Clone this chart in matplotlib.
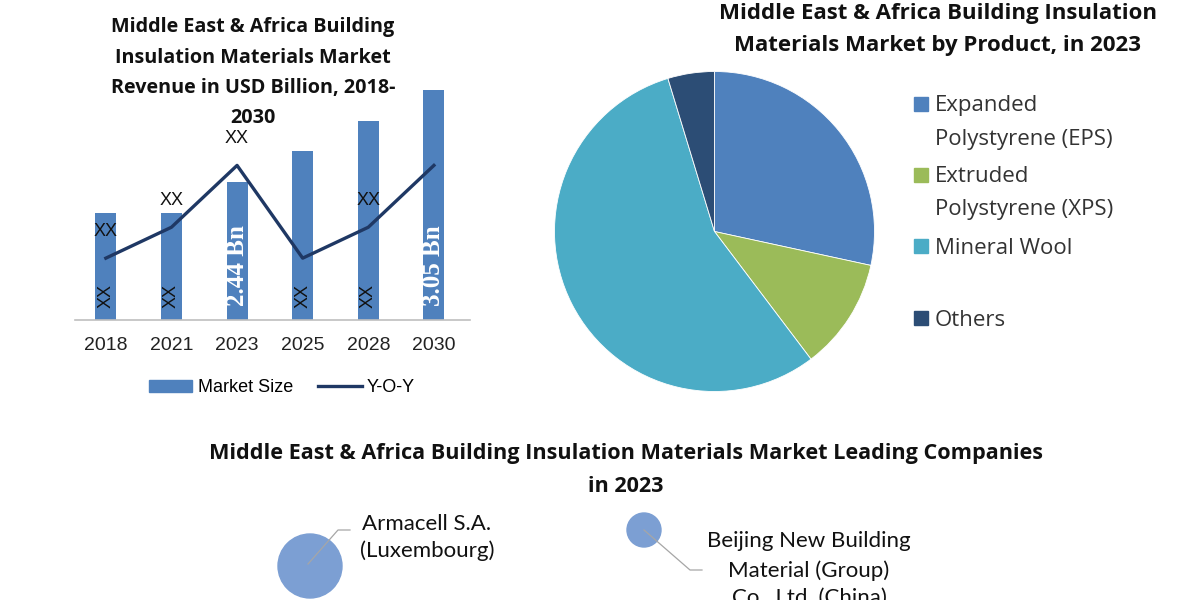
import matplotlib
matplotlib.use("Agg")
import matplotlib.pyplot as plt
from matplotlib.patches import Rectangle, Circle
from matplotlib.lines import Line2D

# ---------------- data ----------------
years = ["2018", "2021", "2023", "2025", "2028", "2030"]
market_size = [1.42, 1.42, 1.83, 2.24, 2.64, 3.05]
yoy = [2, 3, 5, 2, 3, 5]
top_labels = ["XX", "XX", "XX", "", "XX", ""]
bar_labels = ["XX", "XX", "2.44 Bn", "XX", "XX", "3.05 Bn"]

products = ["Expanded\nPolystyrene (EPS)", "Extruded\nPolystyrene (XPS)", "Mineral Wool", "Others"]
shares = [28.4, 11.3, 55.6, 4.7]
pie_colors = ["#4F81BD", "#9BBB59", "#4BACC6", "#2C4D75"]

companies = ["Armacell S.A.\n(Luxembourg)", "Beijing New Building\nMaterial (Group)\nCo., Ltd. (China)"]
company_size = [32, 17]

BAR = "#4F81BD"
LINE = "#1F3864"
W, H = 1200, 600

fig = plt.figure(figsize=(12, 6), dpi=100)
fig.patch.set_facecolor("white")


def fx(px):
    return px / W


def fy(py):
    return 1 - py / H


def lines_text(x, ys, text, **kw):
    for line, yy in zip(text.split("\n"), ys):
        fig.text(fx(x), fy(yy), line, va="center", **kw)


# ---------------- bar chart ----------------
base_px, top_px = 320, 85
ax = fig.add_axes([fx(75), fy(base_px), fx(470 - 75), (base_px - top_px) / H])
x = list(range(len(years)))
ax.bar(x, market_size, width=0.32, color=BAR, zorder=2)
ax.set_xlim(-0.47, 5.55)
ax.set_ylim(0, 3.12)
ax.set_yticks([])
ax.set_xticks(x)
ax.set_xticklabels(years, fontsize=14, family="Liberation Sans", color="#222222")
ax.tick_params(axis="x", length=0, pad=12)
for s in ["top", "right", "left"]:
    ax.spines[s].set_visible(False)
ax.spines["bottom"].set_color("#BFBFBF")
ax.spines["bottom"].set_linewidth(1.2)
ax.patch.set_alpha(0)

for xi, lab in zip(x, bar_labels):
    if "Bn" in lab:
        ax.annotate(lab, (xi, 0), xytext=(0, 39), textcoords="offset points",
                    rotation=90, ha="center", va="center", color="white",
                    fontsize=18, fontweight="bold", family="Liberation Serif", zorder=4)
    else:
        ax.annotate(lab, (xi, 0), xytext=(0, 17), textcoords="offset points",
                    rotation=90, ha="center", va="center", color="#111111",
                    fontsize=13, family="Liberation Sans", zorder=4)

ax2 = ax.twinx()
ax2.set_ylim(0, 7.6)
ax2.plot(x, yoy, color=LINE, linewidth=2.4, zorder=3)
ax2.set_yticks([])
for s in ["top", "right", "left", "bottom"]:
    ax2.spines[s].set_visible(False)
for xi, v, lab in zip(x, yoy, top_labels):
    if lab:
        ax2.annotate(lab, (xi, v), xytext=(0, 19.5), textcoords="offset points",
                     ha="center", va="center", color="#111111",
                     fontsize=13, family="Liberation Sans")

handles = [Rectangle((0, 0), 1, 1, color=BAR), Line2D([0], [0], color=LINE, lw=2.4)]
fig.legend(handles, ["Market Size", "Y-O-Y"], loc="center", bbox_to_anchor=(fx(282), fy(388)),
           ncol=2, frameon=False, prop={"family": "Liberation Sans", "size": 13},
           handlelength=2.4, handleheight=0.6, handletextpad=0.3, columnspacing=1.4)

lines_text(253, [27, 58, 88, 118],
           "Middle East & Africa Building\nInsulation Materials Market\nRevenue in USD Billion, 2018-\n2030",
           ha="center", fontsize=14.2, fontweight="bold", family="Open Sans", color="#111111")

# ---------------- pie chart ----------------
cx, cy, r = 714.5, 231.5, 160
pax = fig.add_axes([fx(cx - r), fy(cy + r), 2 * r / W, 2 * r / H])
pax.pie(shares, colors=pie_colors, startangle=90, counterclock=False,
        wedgeprops={"edgecolor": "white", "linewidth": 0.6})
pax.set_xlim(-1, 1)
pax.set_ylim(-1, 1)
pax.set_aspect("equal")
pax.axis("off")

lines_text(938, [14, 46], "Middle East & Africa Building Insulation\nMaterials Market by Product, in 2023",
           ha="center", fontsize=16, fontweight="bold", family="Open Sans", color="#111111")

leg_y = [106, 177, 248, 320]
for lab, col, yy in zip(products, pie_colors, leg_y):
    fig.patches.append(Rectangle((fx(914), fy(yy + 5)), 14 / W, 14 / H, color=col,
                                 transform=fig.transFigure, figure=fig))
    lines_text(935, [yy, yy + 33], lab, ha="left", fontsize=16, family="Open Sans", color="#333333")

# ---------------- leading companies ----------------
lines_text(626, [454, 487],
           "Middle East & Africa Building Insulation Materials Market Leading Companies\nin 2023",
           ha="center", fontsize=15.6, fontweight="bold", family="Open Sans", color="#111111")

bax = fig.add_axes([0, 0, 1, 1], zorder=-1)
bax.set_xlim(0, W)
bax.set_ylim(H, 0)
bax.axis("off")
bubble_pos = [(310, 566), (644, 530)]
leader = [[(308, 564), (338, 530), (350, 530)], [(644, 530), (690, 570), (702, 570)]]
text_pos = [(427, [524, 551]), (809, [541, 571, 598])]
for name, size, (bx, by), pts, (tx, tys) in zip(companies, company_size, bubble_pos, leader, text_pos):
    bax.add_patch(Circle((bx, by), size, color="#7C9FD3"))
    bax.plot([p[0] for p in pts], [p[1] for p in pts], color="#A6A6A6", lw=0.9)
    lines_text(tx, tys, name, ha="center", fontsize=16, family="Lato", color="#111111")

fig.savefig("out.png", dpi=100)
